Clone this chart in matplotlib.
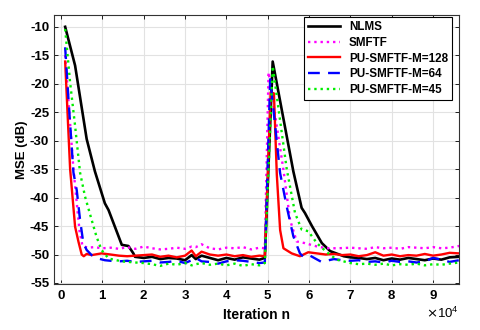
import numpy as np
import matplotlib
matplotlib.use('Agg')
import matplotlib.pyplot as plt
from matplotlib.ticker import ScalarFormatter

plt.rcParams['font.family'] = ['Liberation Sans', 'DejaVu Sans']
plt.rcParams['axes.unicode_minus'] = False

# Plateau grids (iterations)
p1_x = [20000, 22000, 24000, 26000, 28000, 30000, 31600, 32600, 34000, 36000,
        38000, 40000, 42000, 44000, 46000, 48000, 49300]
p2_x = [70000, 72000, 74000, 76000, 78000, 80000, 82000, 84000, 86000, 88000,
        90000, 92000, 94000, 96300]

# NLMS
nlms_x = [1000, 3400, 6200, 8200, 10600, 11500, 14700, 16300, 17500, 17900] + p1_x + \
         [51200, 56200, 58200, 59000, 60700, 63100, 65100, 68400] + p2_x
nlms_y = [-10, -16.8, -29.7, -35.4, -41.0, -42.2, -48.3, -48.5, -49.8, -50.4,
          -50.6, -50.4, -50.8, -50.6, -50.7, -51.0, -50.1, -50.8, -50.2, -50.6,
          -51.0, -50.6, -50.9, -50.5, -50.7, -50.9, -50.6,
          -16.1, -35.4, -41.8, -42.7, -45.0, -48.0, -49.4, -50.3,
          -50.5, -50.6, -50.8, -50.6, -51.0, -50.7, -50.9, -50.6, -50.8, -51.0,
          -50.7, -50.9, -50.5, -50.4]

# SMFTF
smftf_x = [1000, 3000, 4500, 5200, 6500, 8000, 10000, 12000, 14000, 16000, 18000] + p1_x + \
          [50200, 53800, 55400, 57000, 59000, 62000, 64300, 67000] + p2_x
smftf_y = [-15.0, -35.0, -46.0, -48.5, -48.8, -48.7, -48.9, -48.8, -49.0, -48.7, -49.0,
           -48.6, -48.9, -49.1, -49.0, -48.8, -49.0, -48.6, -48.7, -48.2, -48.9,
           -49.1, -48.8, -48.9, -48.7, -49.1, -48.8, -48.9,
           -18.0, -35.1, -43.9, -47.7, -48.0, -48.6, -48.9, -48.9,
           -48.8, -48.9, -49.0, -48.7, -48.9, -48.8, -49.0, -48.7, -48.8, -48.9,
           -48.7, -48.9, -48.8, -48.5]

# PU-SMFTF-M=128
m128_x = [1000, 2200, 3400, 4200, 5000, 5500, 6200, 7400, 9800, 12000, 14000, 16000, 18000] + p1_x + \
         [50700, 51500, 52200, 53000, 53800, 55800, 57800, 59800, 61900, 64000, 66000, 68000] + p2_x
m128_y = [-16.1, -35.0, -45.1, -47.7, -50.0, -50.3, -49.9, -50.1, -49.8, -50.0, -50.2, -50.3, -50.2,
          -50.1, -50.0, -50.4, -50.2, -50.5, -50.2, -49.3, -50.3, -49.5, -50.0,
          -50.2, -50.0, -50.3, -50.1, -50.4, -50.2, -50.3,
          -21.5, -21.7, -36.0, -45.7, -48.9, -49.8, -50.3, -49.6, -49.8, -50.0, -49.9, -50.1,
          -50.0, -50.3, -50.1, -49.6, -50.2, -50.0, -50.3, -50.1, -50.2, -49.9,
          -50.2, -50.0, -49.7, -49.8]

# PU-SMFTF-M=64
m64_x = [1000, 1800, 3000, 3800, 4600, 5400, 6200, 7400, 9000, 10600, 12000, 14000, 16000, 18000] + p1_x + \
        [50600, 53000, 54600, 56200, 57800, 58600, 60000, 63000, 66000, 68000] + p2_x
m64_y = [-13.6, -22.7, -35.6, -38.7, -43.9, -48.0, -49.2, -50.1, -50.7, -51.0, -51.1, -51.2, -51.1, -51.3,
         -51.2, -51.1, -51.4, -51.3, -51.1, -51.5, -51.0, -50.6, -51.2, -51.3,
         -51.6, -51.2, -51.0, -51.1, -51.3, -51.5, -51.4,
         -19.2, -35.7, -41.6, -46.8, -49.8, -50.4, -50.1, -51.3, -50.8, -51.0,
         -51.1, -51.0, -51.3, -51.2, -51.4, -51.1, -51.3, -51.2, -51.4, -51.2,
         -50.6, -50.9, -51.3, -51.0]

# PU-SMFTF-M=45
m45_x = [1000, 2200, 3400, 4600, 5800, 7400, 8600, 9800, 11500, 14700, 18000] + p1_x + \
        [51200, 54600, 56600, 58200, 59800, 61900, 64300, 66700] + p2_x
m45_y = [-10.4, -19.8, -27.4, -35.6, -39.8, -43.9, -46.9, -49.2, -50.7, -51.2, -51.4,
         -51.5, -51.7, -52.0, -51.6, -51.8, -51.5, -51.9, -51.7, -51.5, -51.8,
         -51.6, -51.9, -51.6, -52.0, -51.7, -51.9, -51.5,
         -16.9, -35.0, -42.7, -45.6, -45.9, -48.0, -49.6, -50.9,
         -51.5, -51.7, -51.6, -51.8, -51.6, -51.9, -51.7, -51.8, -51.6, -51.9,
         -51.7, -51.8, -51.6, -51.4]

fig = plt.figure(figsize=(4.8, 3.3), dpi=100)
ax = fig.add_axes([0.1125, 0.139, 0.844, 0.816])

ax.plot(nlms_x, nlms_y, color='black', lw=1.9, label='NLMS')
ax.plot(smftf_x, smftf_y, color='#ff00ff', lw=1.7, linestyle=':', label='SMFTF')
ax.plot(m128_x, m128_y, color='red', lw=1.7, label='PU-SMFTF-M=128')
ax.plot(m64_x, m64_y, color='blue', lw=1.7, linestyle=(0, (5, 3.5)), label='PU-SMFTF-M=64')
ax.plot(m45_x, m45_y, color='#00ee00', lw=1.7, linestyle=':', label='PU-SMFTF-M=45')

ax.set_xlim(-1700, 96300)
ax.set_ylim(-55.2, -7.9)
ax.set_xticks(np.arange(0, 10) * 10000)
ax.set_yticks([-55, -50, -45, -40, -35, -30, -25, -20, -15, -10])

fmt = ScalarFormatter(useMathText=True)
fmt.set_powerlimits((0, 0))
ax.xaxis.set_major_formatter(fmt)
ax.xaxis.get_offset_text().set_fontsize(9.5)

ax.grid(True, color='#e2e2e2', lw=0.8)
ax.set_axisbelow(True)
ax.tick_params(direction='in', top=True, right=True, labelsize=9.5, length=3, width=0.6)
for lab in ax.get_xticklabels() + ax.get_yticklabels():
    lab.set_fontweight('bold')
for s in ax.spines.values():
    s.set_linewidth(0.8)
    s.set_color('#333333')

ax.set_xlabel('Iteration n', fontsize=10, fontweight='bold', labelpad=4)
ax.set_ylabel('MSE (dB)', fontsize=9.5, fontweight='bold', labelpad=1)

leg = ax.legend(loc='upper right', bbox_to_anchor=(0.983, 0.993),
                prop={'weight': 'bold', 'size': 8.4},
                fancybox=False, edgecolor='black', framealpha=1,
                handlelength=2.7, borderpad=0.35, labelspacing=0.33,
                borderaxespad=0.0)
leg.get_frame().set_linewidth(0.8)

fig.savefig('out.png', dpi=100)
